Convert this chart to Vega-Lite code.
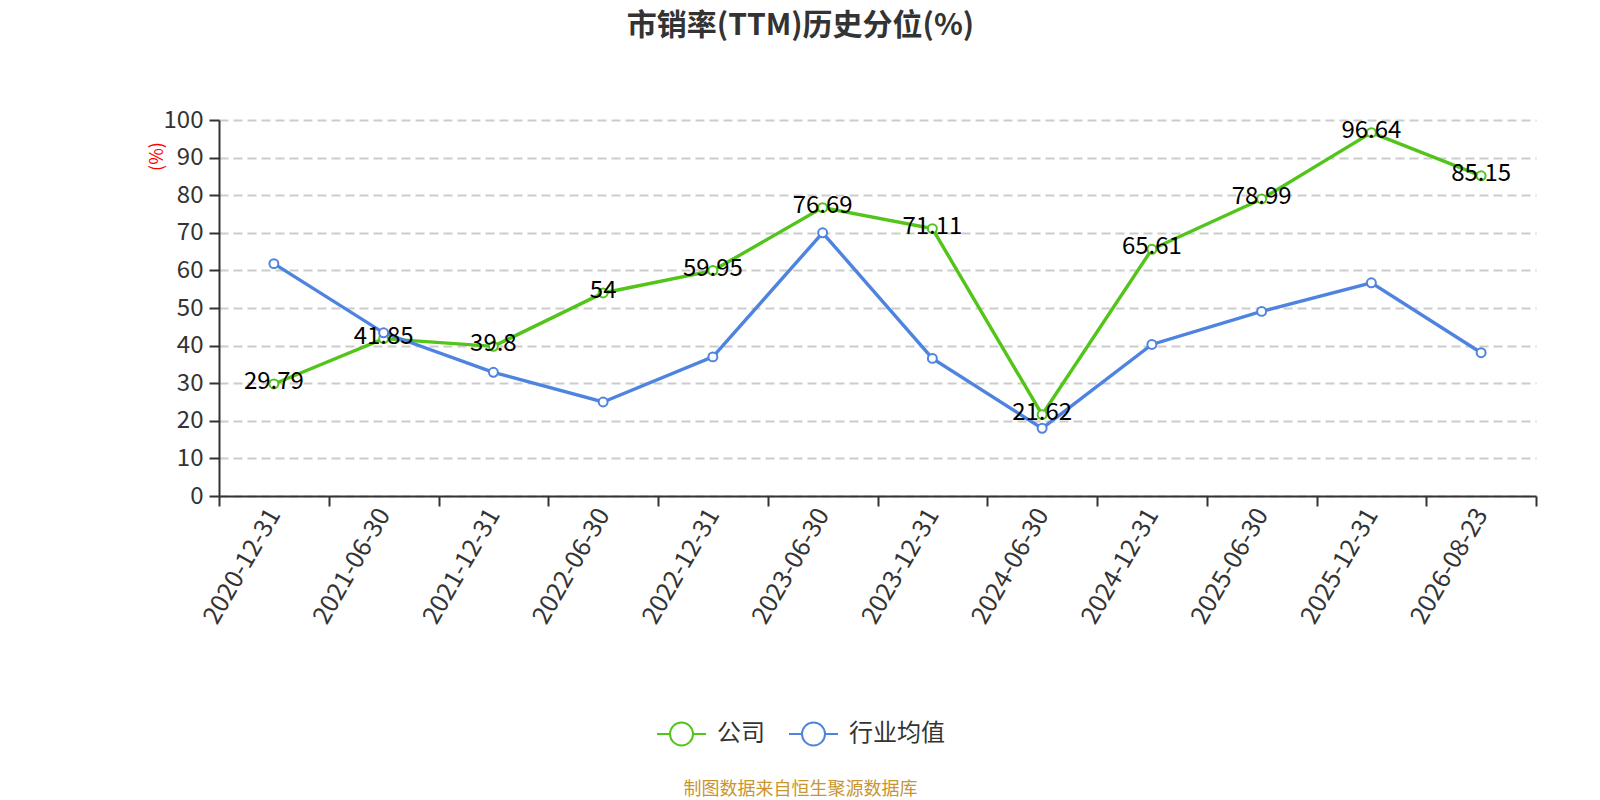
{
  "$schema": "https://vega.github.io/schema/vega-lite/v6.json",
  "width": 1317,
  "height": 376,
  "autosize": {"type": "none"},
  "padding": {"left": 219, "top": 120, "right": 64, "bottom": 304},
  "background": "white",
  "config": {
    "view": {"stroke": null},
    "font": "Noto Sans CJK SC"
  },
  "title": {
    "text": "市销率(TTM)历史分位(%)",
    "font": "Noto Sans CJK SC",
    "fontSize": 30,
    "fontWeight": "bold",
    "color": "#333333",
    "anchor": "middle",
    "dx": -77,
    "offset": 67
  },
  "data": {
    "values": [
      {"date": "2020-12-31", "series": "公司", "value": 29.79},
      {"date": "2021-06-30", "series": "公司", "value": 41.85},
      {"date": "2021-12-31", "series": "公司", "value": 39.8},
      {"date": "2022-06-30", "series": "公司", "value": 54},
      {"date": "2022-12-31", "series": "公司", "value": 59.95},
      {"date": "2023-06-30", "series": "公司", "value": 76.69},
      {"date": "2023-12-31", "series": "公司", "value": 71.11},
      {"date": "2024-06-30", "series": "公司", "value": 21.62},
      {"date": "2024-12-31", "series": "公司", "value": 65.61},
      {"date": "2025-06-30", "series": "公司", "value": 78.99},
      {"date": "2025-12-31", "series": "公司", "value": 96.64},
      {"date": "2026-08-23", "series": "公司", "value": 85.15},
      {"date": "2020-12-31", "series": "行业均值", "value": 61.8},
      {"date": "2021-06-30", "series": "行业均值", "value": 43.4},
      {"date": "2021-12-31", "series": "行业均值", "value": 32.9},
      {"date": "2022-06-30", "series": "行业均值", "value": 25.0},
      {"date": "2022-12-31", "series": "行业均值", "value": 37.0},
      {"date": "2023-06-30", "series": "行业均值", "value": 70.0},
      {"date": "2023-12-31", "series": "行业均值", "value": 36.6},
      {"date": "2024-06-30", "series": "行业均值", "value": 18.0},
      {"date": "2024-12-31", "series": "行业均值", "value": 40.3},
      {"date": "2025-06-30", "series": "行业均值", "value": 49.1},
      {"date": "2025-12-31", "series": "行业均值", "value": 56.7},
      {"date": "2026-08-23", "series": "行业均值", "value": 38.1}
    ]
  },
  "encoding": {
    "x": {
      "field": "date",
      "type": "ordinal",
      "bandPosition": 0.5,
      "scale": {"type": "band", "paddingInner": 0, "paddingOuter": 0},
      "axis": {
        "tickBand": "extent",
        "labelAngle": -60,
        "labelFontSize": 25,
        "labelColor": "#333333",
        "labelPadding": 4,
        "tickSize": 10,
        "tickColor": "#333333",
        "tickWidth": 2,
        "domainColor": "#333333",
        "domainWidth": 2,
        "grid": false,
        "title": "制图数据来自恒生聚源数据库",
        "titleFontSize": 18,
        "titleFontWeight": "normal",
        "titleColor": "#c9952e",
        "titleX": 581,
        "titleY": 293,
        "titleAlign": "center",
        "titleBaseline": "middle",
        "titleAnchor": null
      }
    },
    "y": {
      "field": "value",
      "type": "quantitative",
      "scale": {"domain": [0, 100], "nice": false},
      "axis": {
        "values": [0, 10, 20, 30, 40, 50, 60, 70, 80, 90, 100],
        "labelFontSize": 24,
        "labelColor": "#333333",
        "labelPadding": 6,
        "tickSize": 10,
        "tickColor": "#333333",
        "tickWidth": 2,
        "domainColor": "#333333",
        "domainWidth": 2,
        "grid": true,
        "gridColor": "#cccccc",
        "gridWidth": 1.8,
        "gridDash": [9, 5],
        "title": "(%)",
        "titleColor": "red",
        "titleFontSize": 18,
        "titleFontWeight": "normal",
        "titleAngle": -90,
        "titleX": -62,
        "titleY": 36,
        "titleAlign": "center",
        "titleBaseline": "middle"
      }
    },
    "color": {
      "field": "series",
      "type": "nominal",
      "scale": {"domain": ["公司", "行业均值"], "range": ["#52c41a", "#4e83e0"]},
      "legend": {
        "title": null,
        "orient": "none",
        "direction": "horizontal",
        "legendX": 437,
        "legendY": 588,
        "symbolType": "M-1,0L-0.47,0M0.47,0L1,0M0.47,0A0.47,0.47,0,1,1,-0.47,0A0.47,0.47,0,1,1,0.47,0Z",
        "symbolSize": 2401,
        "symbolStrokeWidth": 2,
        "symbolFillColor": "white",
        "labelFontSize": 24,
        "labelColor": "#333333",
        "labelOffset": 10,
        "columnPadding": 20
      }
    }
  },
  "layer": [
    {
      "mark": {"type": "line", "strokeWidth": 3.4}
    },
    {
      "mark": {"type": "point", "shape": "circle", "filled": false, "fill": "white", "fillOpacity": 1, "opacity": 1, "size": 80, "strokeWidth": 2}
    },
    {
      "transform": [{"filter": "datum.series === '公司'"}],
      "mark": {"type": "text", "fontSize": 24, "color": "black", "align": "center", "baseline": "middle", "dy": -2},
      "encoding": {
        "text": {"field": "value", "type": "quantitative"},
        "color": {"value": "black"}
      }
    }
  ]
}
